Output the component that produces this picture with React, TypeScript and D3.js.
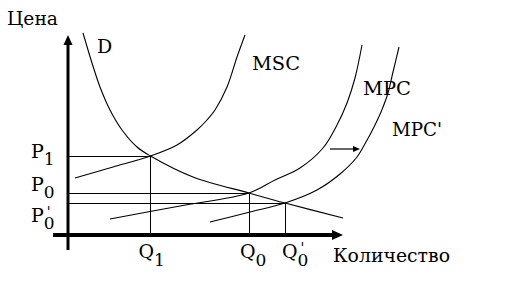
import * as d3 from 'd3';

// chart units: quantity 0..11 on the x axis, price 0..10 on the y axis
const xMax = 11;
const yMax = 10;

const demand: [number, number][] = [
  [0.6, 10.1], [0.96, 8.6], [1.28, 7.4], [1.68, 6.25], [2.16, 5.25], [2.76, 4.4],
  [3.3, 3.95], [5.0, 2.9], [7.24, 2.1], [8.68, 1.6], [11, 0.85],
];
const msc: [number, number][] = [
  [0.28, 2.85], [1.8, 3.4], [3.3, 3.95], [4.36, 4.5], [5.16, 5.25], [5.56, 5.75],
  [5.88, 6.25], [6.36, 7.4], [6.76, 8.9], [7.08, 10.0],
];
const mpc: [number, number][] = [
  [1.68, 0.8], [4.48, 1.45], [7.24, 2.1], [8.28, 2.75], [9.28, 3.35], [10.2, 4.35],
  [10.76, 5.5], [11.16, 6.6], [11.48, 7.85], [11.76, 9.5],
];
const mpcShifted: [number, number][] = [
  [5.68, 0.65], [7.28, 1.15], [8.68, 1.6], [9.96, 2.25], [10.88, 3.05], [11.56, 3.9],
  [11.92, 4.65], [12.24, 5.4], [12.52, 6.15], [12.8, 7.1], [13.0, 8.15], [13.24, 9.4],
];

// equilibria: Q1/P1 (social), Q0/P0 (private), Q0'/P0' (after shift)
const quantities = [3.3, 7.24, 8.68];
const prices = [3.95, 2.1, 1.6];
const subs = ['1', '0', '0'];
const primes = [false, false, true];

// shift arrow MPC -> MPC'
const shiftFrom = 10.48;
const shiftTo = 11.68;
const shiftPrice = 4.3;

const font = "'DejaVu Serif', 'Liberation Serif', serif";

export default function App() {
  const width = 508;
  const height = 286;

  const x = d3.scaleLinear().domain([0, xMax]).range([68, 343]);
  const y = d3.scaleLinear().domain([0, yMax]).range([235, 35]);

  const line = d3
    .line<[number, number]>()
    .x(d => x(d[0]))
    .y(d => y(d[1]))
    .curve(d3.curveCatmullRom.alpha(0.5));

  const x0 = x(0);
  const y0 = y(0);

  // label offsets (px)
  const qDx = [-12, -9, -3];
  const pDy = [2, -2, 19];

  return (
    <svg
      width={width}
      height={height}
      style={{ position: 'absolute', left: 0, top: 0, background: '#fff', fontFamily: font }}
    >
      {/* guide lines */}
      <g stroke="#000" strokeWidth={1} shapeRendering="crispEdges">
        {quantities.map((q, i) => (
          <g key={i}>
            <line x1={x0} x2={x(q)} y1={y(prices[i])} y2={y(prices[i])} />
            <line x1={x(q)} x2={x(q)} y1={y(prices[i])} y2={y0} />
          </g>
        ))}
      </g>

      {/* curves */}
      <g fill="none" stroke="#000" strokeWidth={1.1}>
        <path d={line(demand) || ''} />
        <path d={line(msc) || ''} />
        <path d={line(mpc) || ''} />
        <path d={line(mpcShifted) || ''} />
      </g>

      {/* shift arrow */}
      <line
        x1={x(shiftFrom)}
        x2={x(shiftTo) - 5}
        y1={y(shiftPrice)}
        y2={y(shiftPrice)}
        stroke="#000"
        strokeWidth={1.2}
      />
      <path d={`M${x(shiftTo)},${y(shiftPrice)} l-7,-3 l0,6 z`} fill="#000" />

      {/* axes */}
      <line x1={x0} x2={x0} y1={y(-0.75)} y2={y(yMax) + 8} stroke="#000" strokeWidth={3} />
      <path d={`M${x0},${y(yMax)} l-4.5,10 l9,0 z`} fill="#000" />
      <line x1={x(-0.6)} x2={x(xMax) - 8} y1={y0} y2={y0} stroke="#000" strokeWidth={4} />
      <path d={`M${x(xMax)},${y0} l-11,-5 l0,10 z`} fill="#000" />

      {/* text */}
      <g fill="#000" fontSize={19}>
        <text x={7} y={25} textLength={51} lengthAdjust="spacingAndGlyphs">Цена</text>
        <text x={333} y={262} textLength={117} lengthAdjust="spacingAndGlyphs">Количество</text>
        <text x={97} y={53}>D</text>
        <text x={252} y={70} textLength={48} lengthAdjust="spacingAndGlyphs">MSC</text>
        <text x={363} y={95} textLength={48} lengthAdjust="spacingAndGlyphs">MPC</text>
        <text x={392} y={136} textLength={50} lengthAdjust="spacingAndGlyphs">MPC'</text>

        {prices.map((p, i) => (
          <text key={'p' + i} x={31} y={y(p) + pDy[i]}>
            P<tspan fontSize={17} dy={7}>{subs[i]}</tspan>
            {primes[i] && (
              <tspan fontSize={14} dx={-8} dy={-12}>'</tspan>
            )}
          </text>
        ))}

        {quantities.map((q, i) => (
          <text key={'q' + i} x={x(q) + qDx[i]} y={258}>
            Q<tspan fontSize={17} dy={8}>{subs[i]}</tspan>
            {primes[i] && (
              <tspan fontSize={14} dx={-8} dy={-13}>'</tspan>
            )}
          </text>
        ))}
      </g>
    </svg>
  );
}
